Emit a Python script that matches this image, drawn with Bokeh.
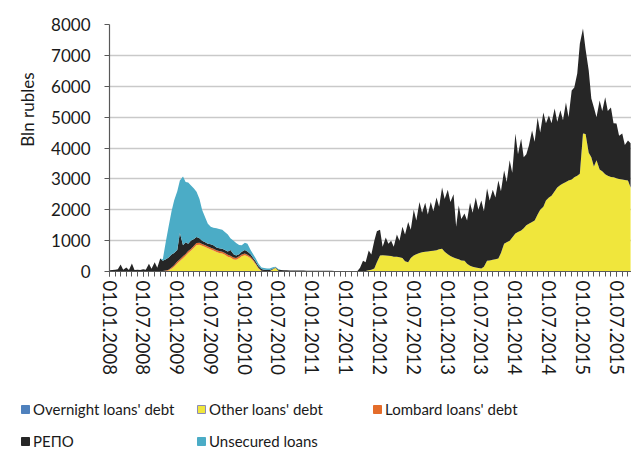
import pandas as pd
from bokeh.plotting import figure
from bokeh.layouts import column
from bokeh.models import (ColumnDataSource, Range1d, FixedTicker, Title,
                          DatetimeTickFormatter, Legend, LegendItem)
from bokeh.embed import file_html
from bokeh.resources import INLINE

FONT = "Lato"

# semi-monthly observation dates (1st and 15th of every month)
dates = pd.date_range("2008-01-01", "2015-09-15", freq="SMS")

series_names = ["Overnight loans' debt", "Other loans' debt", "Lombard loans' debt",
                "РЕПО", "Unsecured loans"]
series_colors = ["#4f81bd", "#f0e63c", "#e46c2a", "#262626", "#4bacc6"]

overnight = ([10] * 24 +                      # 2008
             [10] * 24 +                      # 2009
             [10] * 6 + [5] * 18 +            # 2010
             [5] * 16 + [0] * 8 +             # 2011
             [0] * 24 + [0] * 24 + [0] * 24 + # 2012-2014
             [0] * 18)                        # 2015

other = ([0] * 20 + [0, 20, 80, 140] +
         [250, 330, 420, 500, 590, 660, 760, 850, 860, 820, 780, 740,
          700, 670, 620, 590, 570, 530, 470, 440, 380, 370, 420, 480] +
         [520, 480, 420, 330, 220, 90, 10, 0, 0, 0, 60, 110, 20, 0] + [0] * 10 +
         [0] * 16 + [0, 0, 0, 20, 40, 60, 100, 300] +
         [520, 530, 520, 510, 500, 480, 480, 460, 440, 330, 300, 440,
          520, 560, 600, 620, 640, 650, 660, 670, 690, 720, 740, 640] +
         [560, 500, 450, 420, 400, 360, 350, 250, 190, 150, 130, 110,
          100, 150, 350, 360, 380, 400, 420, 600, 900, 950, 1000, 1100] +
         [1230, 1280, 1330, 1400, 1500, 1550, 1600, 1650, 1850, 2000, 2100, 2300,
          2400, 2450, 2600, 2720, 2800, 2850, 2900, 2950, 2980, 3050, 3100, 3170] +
         [4470, 4450, 3850, 3700, 3400, 3600, 3300, 3250, 3150, 3100, 3060, 3050,
          3020, 3000, 2980, 2960, 2950, 2720])

lombard = ([0] * 18 + [0, 10, 20, 30, 40, 50] +
           [60] * 24 +
           [50, 50, 50, 40, 30, 20, 10, 10, 0, 0, 10, 10] + [0] * 12 +
           [0] * 24 + [0] * 24 + [0] * 24 + [0] * 24 + [0] * 18)

repo = ([30, 40, 50, 60, 220, 50, 120, 40, 250, 40, 50, 40,
         60, 50, 240, 80, 290, 110, 410, 330, 370, 390, 420, 400] +
        [380, 850, 360, 380, 240, 270, 220, 200, 150, 110, 100, 90,
         110, 110, 90, 90, 100, 100, 110, 190, 110, 80, 70, 90] +
        [120, 110, 80, 60, 60, 60, 55, 45, 45, 45, 15, 15,
         35, 40, 35, 35, 30, 30, 25, 25, 25, 25, 20, 20] +
        [20, 20, 20, 20, 18, 18, 18, 18, 15, 15, 15, 15,
         15, 15, 15, 15, 20, 120, 350, 280, 640, 490, 900, 1000] +
        [830, 270, 580, 390, 500, 320, 720, 540, 1010, 870, 1300, 910,
         1480, 1090, 1650, 1280, 1590, 1200, 1590, 1280, 1710, 1380, 1980, 1710] +
        [2090, 1750, 2050, 1030, 1740, 1340, 1530, 1400, 2040, 1750, 2270, 1890,
         2200, 1800, 2340, 1940, 2270, 2000, 2530, 2000, 2370, 1950, 2600, 2100] +
        [3240, 2520, 2970, 2300, 2300, 2530, 2970, 2550, 3140, 2500, 3050, 2500,
         2650, 2350, 2680, 2130, 2420, 2050, 2570, 2050, 2880, 2910, 3310, 4210] +
        [3400, 2750, 2660, 1900, 1910, 1400, 2240, 1950, 2490, 2100, 2250, 1750,
         1770, 1400, 1490, 1140, 1290, 1430])

unsecured = ([0] * 18 + [0, 50, 600, 1000, 1400, 1700] +
             [1900, 1700, 2230, 1950, 1980, 1790, 1640, 1460, 1270, 1000, 800, 650,
              570, 570, 620, 630, 610, 580, 550, 380, 440, 400, 300, 210] +
             [230, 250, 140, 120, 100, 80, 50, 50, 50, 50, 50, 10, 20, 5] + [0] * 10 +
             [0] * 24 + [0] * 24 + [0] * 24 + [0] * 24 + [0] * 18)

y_ticks = [0, 1000, 2000, 3000, 4000, 5000, 6000, 7000, 8000]
x_major = pd.date_range("2008-01-01", "2015-07-01", freq="6MS")
x_minor = pd.date_range("2008-01-01", "2015-09-01", freq="MS")

for s in (overnight, other, lombard, repo, unsecured):
    assert len(s) == len(dates), len(s)

src = ColumnDataSource(dict(date=dates, ov=overnight, ot=other, lo=lombard,
                            re=repo, un=unsecured))

def ms(ts):
    return ts.timestamp() * 1000.0

p = figure(width=631, height=385, x_axis_type="datetime",
           x_range=Range1d(ms(pd.Timestamp("2008-01-01")), ms(pd.Timestamp("2015-09-20"))),
           y_range=Range1d(0, 8000),
           output_backend="svg", toolbar_location=None,
           min_border_left=109, min_border_right=0,
           min_border_top=24, min_border_bottom=114)
p.frame_align = False
p.outline_line_color = None
p.background_fill_color = "white"
p.border_fill_color = "white"

p.varea_stack(stackers=["ov", "ot", "lo", "re", "un"], x="date",
              color=series_colors, source=src)

# axes
p.xaxis.ticker = FixedTicker(ticks=[ms(t) for t in x_major],
                             minor_ticks=[ms(t) for t in x_minor])
fmt = "%d.%m.%Y"
p.xaxis.formatter = DatetimeTickFormatter(microseconds=fmt, milliseconds=fmt, seconds=fmt,
                                          minsec=fmt, minutes=fmt, hourmin=fmt, hours=fmt,
                                          days=fmt, months=fmt, years=fmt)
p.xaxis.major_label_orientation = "vertical"
p.xaxis.major_tick_out = 5
p.xaxis.major_tick_in = 0
p.xaxis.minor_tick_out = 5
p.xaxis.minor_tick_in = 0
p.xaxis.major_label_standoff = 4
p.xaxis.major_label_text_font_size = "18.5px"

p.yaxis.ticker = FixedTicker(ticks=y_ticks)
p.yaxis.minor_tick_line_color = None
p.yaxis.major_tick_out = 5
p.yaxis.major_tick_in = 0
p.yaxis.major_label_standoff = 14
p.yaxis.major_label_text_font_size = "17px"

for ax in (p.xaxis, p.yaxis):
    ax.axis_line_color = "#595959"
    ax.axis_line_width = 1.2
    ax.major_tick_line_color = "#595959"
    ax.major_label_text_font = FONT
    ax.major_label_text_color = "#1a1a1a"
p.xaxis.minor_tick_line_color = "#595959"

# y-axis title placed in the upper part of the left margin, as in the reference
p.add_layout(Title(text="Bln rubles", align="right", offset=48, standoff=22,
                   text_font=FONT, text_font_size="17px", text_font_style="normal",
                   text_color="#1a1a1a"), "left")

p.xgrid.grid_line_color = None
p.ygrid.grid_line_color = "#c9c9c9"
p.ygrid.grid_line_width = 1.5

# legend figure below the chart
lf = figure(width=631, height=65, x_range=Range1d(0, 631), y_range=Range1d(0, 65),
            output_backend="svg", toolbar_location=None,
            min_border_left=0, min_border_right=0, min_border_top=0, min_border_bottom=0,
            x_axis_location=None, y_axis_location=None)
lf.frame_align = False
lf.outline_line_color = None
lf.xgrid.grid_line_color = None
lf.ygrid.grid_line_color = None

line_cols = ["#4f81bd", "#8a8ab8", "#e46c2a", "#262626", "#4bacc6"]
swatches = []
for c, lc in zip(series_colors, line_cols):
    # one off-screen box per series, only used to draw the legend swatch
    r = lf.quad(left=[-50], right=[-40], top=[-40], bottom=[-50], fill_color=c,
                line_color=lc, line_width=1)
    swatches.append(r)

def make_legend(idx, loc):
    return Legend(items=[LegendItem(label=series_names[i], renderers=[swatches[i]]) for i in idx],
                  location=loc, orientation="horizontal",
                  glyph_width=10, glyph_height=10, label_standoff=3, spacing=9,
                  label_width=154, label_height=16, padding=0, margin=0,
                  border_line_color=None, background_fill_alpha=0,
                  label_text_font=FONT, label_text_font_size="15px",
                  label_text_color="#1a1a1a")

lf.add_layout(make_legend([0, 1, 2], (20, 32)))
lf.add_layout(make_legend([3, 4], (20, 0)))

page = column(p, lf, spacing=0)
open("out.html", "w").write(file_html(page, INLINE))
